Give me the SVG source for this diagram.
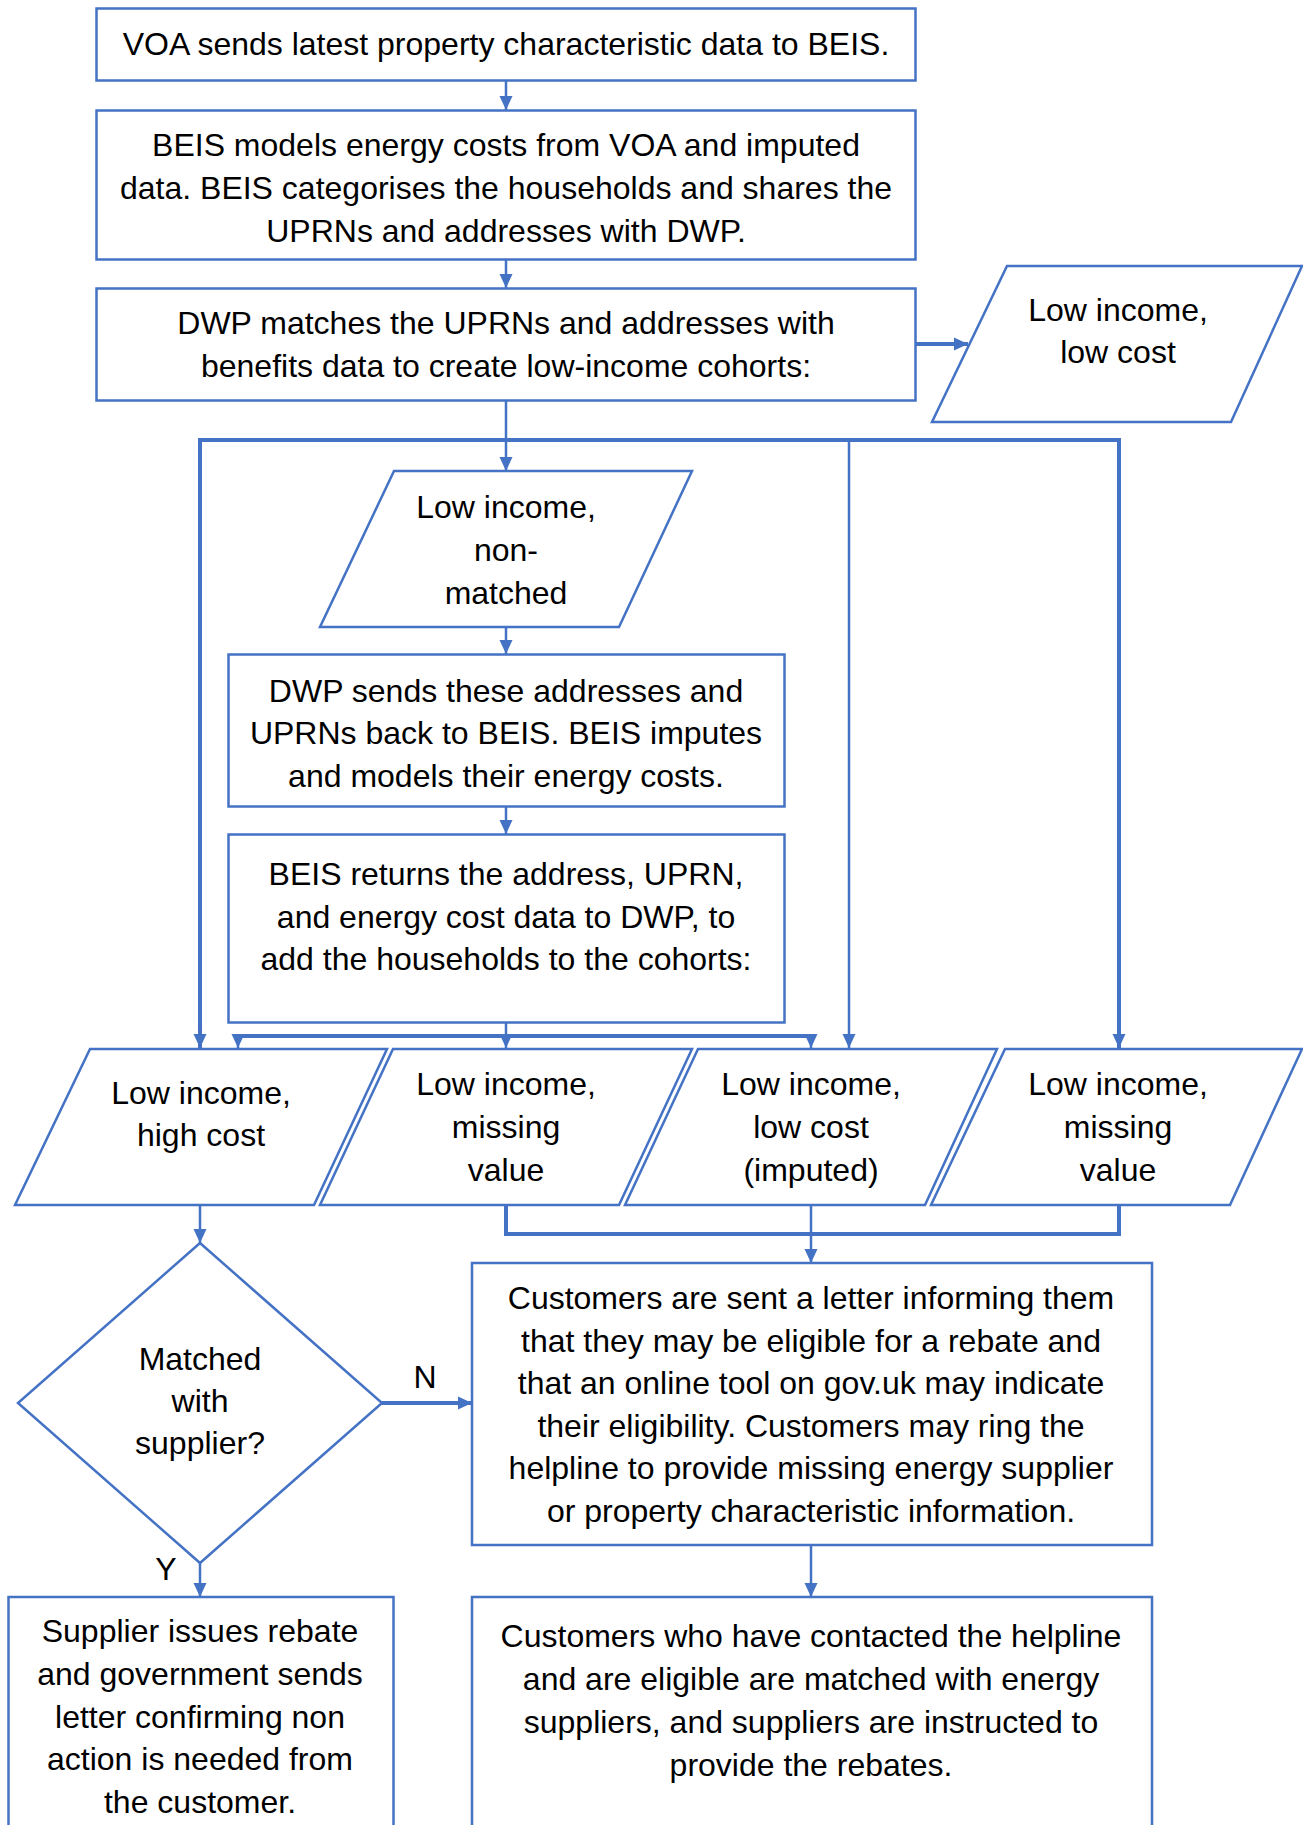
<svg xmlns="http://www.w3.org/2000/svg" width="1303" height="1825" viewBox="0 0 1303 1825">
<style>
.s{fill:#fff;stroke:#4472C4;stroke-width:2.5}
.c{fill:none;stroke:#4472C4;stroke-width:2.5}
.b{fill:none;stroke:#4472C4;stroke-width:4}
text{font-family:"Liberation Sans",Arial,sans-serif;font-size:32px;fill:#000;text-anchor:middle}
</style>
<defs>
<marker id="a" markerUnits="userSpaceOnUse" markerWidth="14" markerHeight="14" refX="14" refY="7" orient="auto"><path d="M0,0.5 L14,7 L0,13.5 z" fill="#4472C4"/></marker>
</defs>
<rect width="1303" height="1825" fill="#fff"/>
<g id="connectors">
<line class="c" x1="506" y1="80" x2="506" y2="110" marker-end="url(#a)"/>
<line class="c" x1="506" y1="259" x2="506" y2="288" marker-end="url(#a)"/>
<line class="b" x1="916" y1="344" x2="968" y2="344" marker-end="url(#a)"/>
<line class="c" x1="506" y1="400" x2="506" y2="471" marker-end="url(#a)"/>
<polyline class="b" points="200,1048 200,440 1119,440 1119,1048" marker-end="url(#a)"/>
<line class="c" x1="200" y1="1020" x2="200" y2="1048" marker-end="url(#a)"/>
<line class="c" x1="849" y1="440" x2="849" y2="1048" marker-end="url(#a)"/>
<line class="c" x1="506" y1="627" x2="506" y2="654" marker-end="url(#a)"/>
<line class="c" x1="506" y1="807" x2="506" y2="834" marker-end="url(#a)"/>
<line class="c" x1="506" y1="1022" x2="506" y2="1048" marker-end="url(#a)"/>
<line class="b" x1="238" y1="1036" x2="811" y2="1036"/>
<line class="c" x1="238" y1="1036" x2="238" y2="1048" marker-end="url(#a)"/>
<line class="c" x1="811" y1="1036" x2="811" y2="1048" marker-end="url(#a)"/>
<polyline class="b" points="506,1205 506,1234 1119,1234 1119,1205"/>
<line class="c" x1="811" y1="1205" x2="811" y2="1263" marker-end="url(#a)"/>
<line class="c" x1="200" y1="1205" x2="200" y2="1243" marker-end="url(#a)"/>
<line class="b" x1="382" y1="1403" x2="472" y2="1403" marker-end="url(#a)"/>
<line class="c" x1="200" y1="1563" x2="200" y2="1597" marker-end="url(#a)"/>
<line class="c" x1="811" y1="1545" x2="811" y2="1597" marker-end="url(#a)"/>
<text x="425" y="1388">N</text>
<text x="166" y="1580">Y</text>
</g>
<g id="n1"><rect class="s" x="96.5" y="8.5" width="819" height="72"/>
<text x="506" y="55">VOA sends latest property characteristic data to BEIS.</text></g>
<g id="n2"><rect class="s" x="96.5" y="110.5" width="819" height="149"/>
<text x="506" y="156">BEIS models energy costs from VOA and imputed</text>
<text x="506" y="199">data. BEIS categorises the households and shares the</text>
<text x="506" y="242">UPRNs and addresses with DWP.</text></g>
<g id="n3"><rect class="s" x="96.5" y="288.5" width="819" height="112"/>
<text x="506" y="334">DWP matches the UPRNs and addresses with</text>
<text x="506" y="377">benefits data to create low-income cohorts:</text></g>
<g id="n4"><polygon class="s" points="1007,266 1302,266 1231,422 932,422"/>
<text x="1118" y="321">Low income,</text>
<text x="1118" y="363">low cost</text></g>
<g id="n5"><polygon class="s" points="394,471 692,471 619,627 320,627"/>
<text x="506" y="518">Low income,</text>
<text x="506" y="561">non-</text>
<text x="506" y="604">matched</text></g>
<g id="n6"><rect class="s" x="228.5" y="654.5" width="556" height="152"/>
<text x="506" y="702">DWP sends these addresses and</text>
<text x="506" y="744">UPRNs back to BEIS. BEIS imputes</text>
<text x="506" y="787">and models their energy costs.</text></g>
<g id="n7"><rect class="s" x="228.5" y="834.5" width="556" height="188"/>
<text x="506" y="885">BEIS returns the address, UPRN,</text>
<text x="506" y="928">and energy cost data to DWP, to</text>
<text x="506" y="970">add the households to the cohorts:</text></g>
<g id="n8"><polygon class="s" points="90,1049 387,1049 314,1205 15,1205"/>
<text x="201" y="1104">Low income,</text>
<text x="201" y="1146">high cost</text></g>
<g id="n9"><polygon class="s" points="393,1049 692,1049 619,1205 320,1205"/>
<text x="506" y="1095">Low income,</text>
<text x="506" y="1138">missing</text>
<text x="506" y="1181">value</text></g>
<g id="n10"><polygon class="s" points="698,1049 997,1049 925,1205 625,1205"/>
<text x="811" y="1095">Low income,</text>
<text x="811" y="1138">low cost</text>
<text x="811" y="1181">(imputed)</text></g>
<g id="n11"><polygon class="s" points="1005,1049 1302,1049 1230,1205 931,1205"/>
<text x="1118" y="1095">Low income,</text>
<text x="1118" y="1138">missing</text>
<text x="1118" y="1181">value</text></g>
<g id="n12"><polygon class="s" points="200,1243 382,1403 200,1563 18,1403"/>
<text x="200" y="1370">Matched</text>
<text x="200" y="1412">with</text>
<text x="200" y="1454">supplier?</text></g>
<g id="n13"><rect class="s" x="472" y="1263" width="680" height="282"/>
<text x="811" y="1309">Customers are sent a letter informing them</text>
<text x="811" y="1352">that they may be eligible for a rebate and</text>
<text x="811" y="1394">that an online tool on gov.uk may indicate</text>
<text x="811" y="1437">their eligibility. Customers may ring the</text>
<text x="811" y="1479">helpline to provide missing energy supplier</text>
<text x="811" y="1522">or property characteristic information.</text></g>
<g id="n14"><rect class="s" x="8.5" y="1597" width="385" height="240"/>
<text x="200" y="1642">Supplier issues rebate</text>
<text x="200" y="1685">and government sends</text>
<text x="200" y="1728">letter confirming non</text>
<text x="200" y="1770">action is needed from</text>
<text x="200" y="1813">the customer.</text></g>
<g id="n15"><rect class="s" x="472" y="1597" width="680" height="240"/>
<text x="811" y="1647">Customers who have contacted the helpline</text>
<text x="811" y="1690">and are eligible are matched with energy</text>
<text x="811" y="1733">suppliers, and suppliers are instructed to</text>
<text x="811" y="1776">provide the rebates.</text></g>
</svg>
